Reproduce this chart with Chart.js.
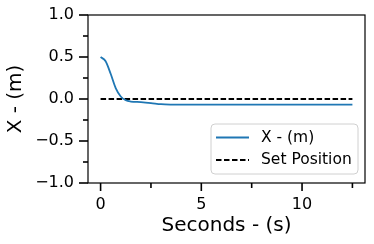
<!DOCTYPE html>
<html>
<head>
<meta charset="utf-8">
<script src="https://cdn.jsdelivr.net/npm/chart.js@4.4.0/dist/chart.umd.min.js"></script>
<style>
  body { margin: 0; background: #fff; }
  #wrap { width: 374px; height: 244px; }
</style>
</head>
<body>
<div id="wrap"><canvas id="xChart" width="374" height="244"></canvas></div>
<script>
// Response data
const timeSec = [0, 0.25, 0.5, 0.75, 1.0, 1.25, 1.5, 2.0, 2.5, 3.0, 3.5, 4.0, 5.0, 6.0, 7.0, 8.0, 9.0, 10.0, 11.0, 12.0, 12.5];
const xPos = [0.50, 0.45, 0.30, 0.13, 0.03, -0.015, -0.03, -0.037, -0.048, -0.062, -0.067, -0.068, -0.067, -0.066, -0.066, -0.066, -0.066, -0.066, -0.066, -0.066, -0.066];
const setTime = [0, 12.5];
const setPos = [0, 0];

// Tick positions and labels
const xTicks = [0, 2.5, 5, 7.5, 10, 12.5];
const xMajor = [0, 5, 10];
const xMajorLabels = ['0', '5', '10'];
const yTicks = [-1, -0.75, -0.5, -0.25, 0, 0.25, 0.5, 0.75, 1];
const yMajor = [-1, -0.5, 0, 0.5, 1];
const yMajorLabels = ['\u22121.0', '\u22120.5', '0.0', '0.5', '1.0'];

const FONT = 'DejaVu Sans';

// Frame, major/minor ticks and the legend box (matplotlib style)
const framePlugin = {
    id: 'frame',
    afterDraw(chart) {
        const ctx = chart.ctx;
        const a = chart.chartArea;
        const xs = chart.scales.x;
        const ys = chart.scales.y;
        ctx.save();
        ctx.strokeStyle = '#000';
        ctx.lineWidth = 1.6;
        xs.ticks.forEach(t => {
            const px = xs.getPixelForValue(t.value);
            const len = xMajor.includes(t.value) ? 8 : 5;
            ctx.beginPath();
            ctx.moveTo(px, a.bottom);
            ctx.lineTo(px, a.bottom + len);
            ctx.stroke();
        });
        ys.ticks.forEach(t => {
            const py = ys.getPixelForValue(t.value);
            const len = yMajor.includes(t.value) ? 9 : 5;
            ctx.beginPath();
            ctx.moveTo(a.left, py);
            ctx.lineTo(a.left - len, py);
            ctx.stroke();
        });
        ctx.lineWidth = 1.2;
        ctx.strokeRect(a.left, a.top, a.right - a.left, a.bottom - a.top);

        // legend, bottom right inside the plot
        const bx = 211, by = 124, bw = 147, bh = 50;
        ctx.beginPath();
        ctx.roundRect(bx, by, bw, bh, 4);
        ctx.fillStyle = 'rgba(255,255,255,0.8)';
        ctx.fill();
        ctx.strokeStyle = '#d0d0d0';
        ctx.lineWidth = 1;
        ctx.stroke();
        ctx.font = '15.5px "' + FONT + '"';
        ctx.textBaseline = 'middle';
        ctx.textAlign = 'left';
        chart.data.datasets.forEach((ds, i) => {
            const ry = 137.5 + i * 22.5;
            ctx.beginPath();
            ctx.setLineDash(ds.borderDash || []);
            ctx.strokeStyle = ds.borderColor;
            ctx.lineWidth = ds.borderWidth;
            ctx.moveTo(216, ry);
            ctx.lineTo(249, ry);
            ctx.stroke();
            ctx.setLineDash([]);
            ctx.fillStyle = '#000';
            ctx.fillText(ds.label, 261, ry);
        });
        ctx.restore();
    }
};

// fixed axis sizes so the plot box lands where the original one is
function fixPadding(scale) {
    scale.paddingTop = 0;
    scale.paddingBottom = 0;
    scale.paddingLeft = 0;
    scale.paddingRight = 0;
}

new Chart(document.getElementById('xChart'), {
    type: 'line',
    data: {
        datasets: [{
            label: 'X - (m)',
            data: timeSec.map((t, i) => ({ x: t, y: xPos[i] })),
            borderColor: '#1f77b4',
            borderWidth: 1.8,
            pointRadius: 0,
            cubicInterpolationMode: 'monotone',
            fill: false
        }, {
            label: 'Set Position',
            data: setTime.map((t, i) => ({ x: t, y: setPos[i] })),
            borderColor: '#000000',
            borderWidth: 1.8,
            borderDash: [5.5, 2.5],
            pointRadius: 0,
            fill: false
        }]
    },
    options: {
        responsive: false,
        animation: false,
        layout: { padding: { top: 15, right: 9, left: 0, bottom: 0 } },
        plugins: {
            legend: { display: false },
            tooltip: { enabled: false }
        },
        scales: {
            x: {
                type: 'linear',
                min: -0.625,
                max: 13.125,
                afterBuildTicks: scale => { scale.ticks = xTicks.map(v => ({ value: v })); },
                afterFit: scale => { scale.height = 61; fixPadding(scale); },
                grid: { display: false, drawTicks: false },
                border: { display: false },
                ticks: {
                    padding: 12,
                    color: '#000',
                    font: { family: FONT, size: 16 },
                    maxRotation: 0,
                    autoSkip: false,
                    callback: value => {
                        const k = xMajor.indexOf(value);
                        return k >= 0 ? xMajorLabels[k] : '';
                    }
                },
                title: {
                    display: true,
                    text: 'Seconds - (s)',
                    color: '#000',
                    font: { family: FONT, size: 20 },
                    padding: { top: 0, bottom: 6 }
                }
            },
            y: {
                min: -1,
                max: 1,
                afterBuildTicks: scale => { scale.ticks = yTicks.map(v => ({ value: v })); },
                afterFit: scale => { scale.width = 88; fixPadding(scale); },
                grid: { display: false, drawTicks: false },
                border: { display: false },
                ticks: {
                    padding: 14,
                    color: '#000',
                    font: { family: FONT, size: 16 },
                    autoSkip: false,
                    callback: value => {
                        const k = yMajor.indexOf(value);
                        return k >= 0 ? yMajorLabels[k] : '';
                    }
                },
                title: {
                    display: true,
                    text: 'X - (m)',
                    color: '#000',
                    font: { family: FONT, size: 20 },
                    padding: { top: 4, bottom: 0 }
                }
            }
        }
    },
    plugins: [framePlugin]
});
</script>
</body>
</html>
